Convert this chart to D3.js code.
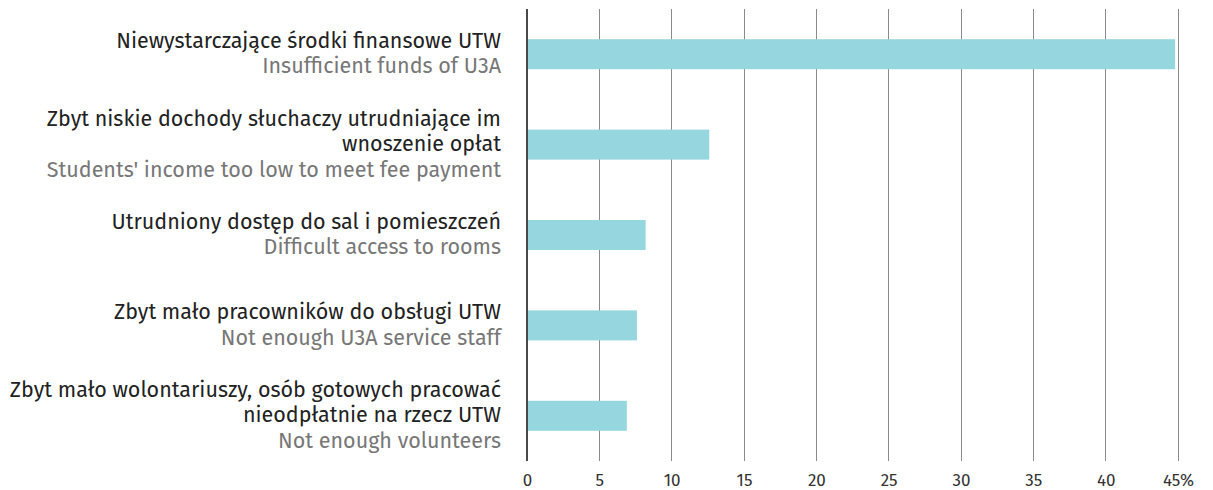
<!DOCTYPE html>
<html>
<head>
<meta charset="utf-8">
<script src="https://cdn.jsdelivr.net/npm/d3@7"></script>
<style>
  html, body { margin: 0; padding: 0; background: #fff; }
  svg { display: block; }
</style>
</head>
<body>
<svg id="chart" width="1213" height="490"></svg>
<script>
// ---- data ----
const categoriesPL = [
  ["Niewystarczające środki finansowe UTW"],
  ["Zbyt niskie dochody słuchaczy utrudniające im", "wnoszenie opłat"],
  ["Utrudniony dostęp do sal i pomieszczeń"],
  ["Zbyt mało pracowników do obsługi UTW"],
  ["Zbyt mało wolontariuszy, osób gotowych pracować", "nieodpłatnie na rzecz UTW"]
];
const categoriesEN = [
  "Insufficient funds of U3A",
  "Students' income too low to meet fee payment",
  "Difficult access to rooms",
  "Not enough U3A service staff",
  "Not enough volunteers"
];
const values = [44.8, 12.6, 8.2, 7.6, 6.9];
const tickValues = [0, 5, 10, 15, 20, 25, 30, 35, 40, 45];
const tickLabels = ["0", "5", "10", "15", "20", "25", "30", "35", "40", "45%"];

// ---- layout ----
const svg = d3.select("#chart");
const plotLeft = 527, plotRight = 1178, plotTop = 9, plotBottom = 461;
const font = "'Fira Sans', 'Open Sans', 'Noto Sans', sans-serif";

const x = d3.scaleLinear().domain([0, 45]).range([plotLeft, plotRight]);
const y = d3.scaleBand()
  .domain(d3.range(values.length))
  .range([plotTop, plotBottom])
  .paddingInner(0.668)
  .paddingOuter(0.334);

// gridlines
svg.append("g").selectAll("line")
  .data(tickValues.filter(d => d > 0))
  .join("line")
  .attr("x1", d => x(d)).attr("x2", d => x(d))
  .attr("y1", plotTop).attr("y2", plotBottom)
  .attr("stroke", "#8a8a8a").attr("stroke-width", 1)
  .attr("shape-rendering", "crispEdges");

// bars
svg.append("g").selectAll("rect")
  .data(values)
  .join("rect")
  .attr("x", x(0))
  .attr("y", (d, i) => y(i))
  .attr("width", d => x(d) - x(0))
  .attr("height", y.bandwidth())
  .attr("fill", "#95d6df");

// zero axis line
svg.append("line")
  .attr("x1", x(0)).attr("x2", x(0))
  .attr("y1", plotTop).attr("y2", plotBottom)
  .attr("stroke", "#4a4a4a").attr("stroke-width", 2);

// x axis tick labels
const xAxis = d3.axisBottom(x)
  .tickValues(tickValues)
  .tickSize(0)
  .tickPadding(0)
  .tickFormat((d, i) => tickLabels[i]);
const gx = svg.append("g")
  .attr("transform", `translate(0, ${plotBottom + 13})`)
  .call(xAxis);
gx.select(".domain").remove();
gx.selectAll("text")
  .attr("font-family", font)
  .attr("font-size", 17)
  .attr("font-weight", 400)
  .attr("fill", "#333")
  .attr("dy", "0.71em");

// category labels
const labelX = 501;
const lineH = 25.5;
const labelSize = 21.5;
const lg = svg.append("g");
values.forEach((v, i) => {
  const lines = categoriesPL[i].map(t => ({ t, c: "#222" }))
    .concat([{ t: categoriesEN[i], c: "#777" }]);
  const cy = y(i) + y.bandwidth() / 2;
  const n = lines.length;
  lines.forEach((ln, k) => {
    lg.append("text")
      .attr("x", labelX)
      .attr("y", cy + 6.5 + (k - (n - 1) / 2) * lineH)
      .attr("text-anchor", "end")
      .attr("font-family", font)
      .attr("font-size", labelSize)
      .attr("font-weight", 400)
      .attr("fill", ln.c)
      .text(ln.t);
  });
});
</script>
</body>
</html>
